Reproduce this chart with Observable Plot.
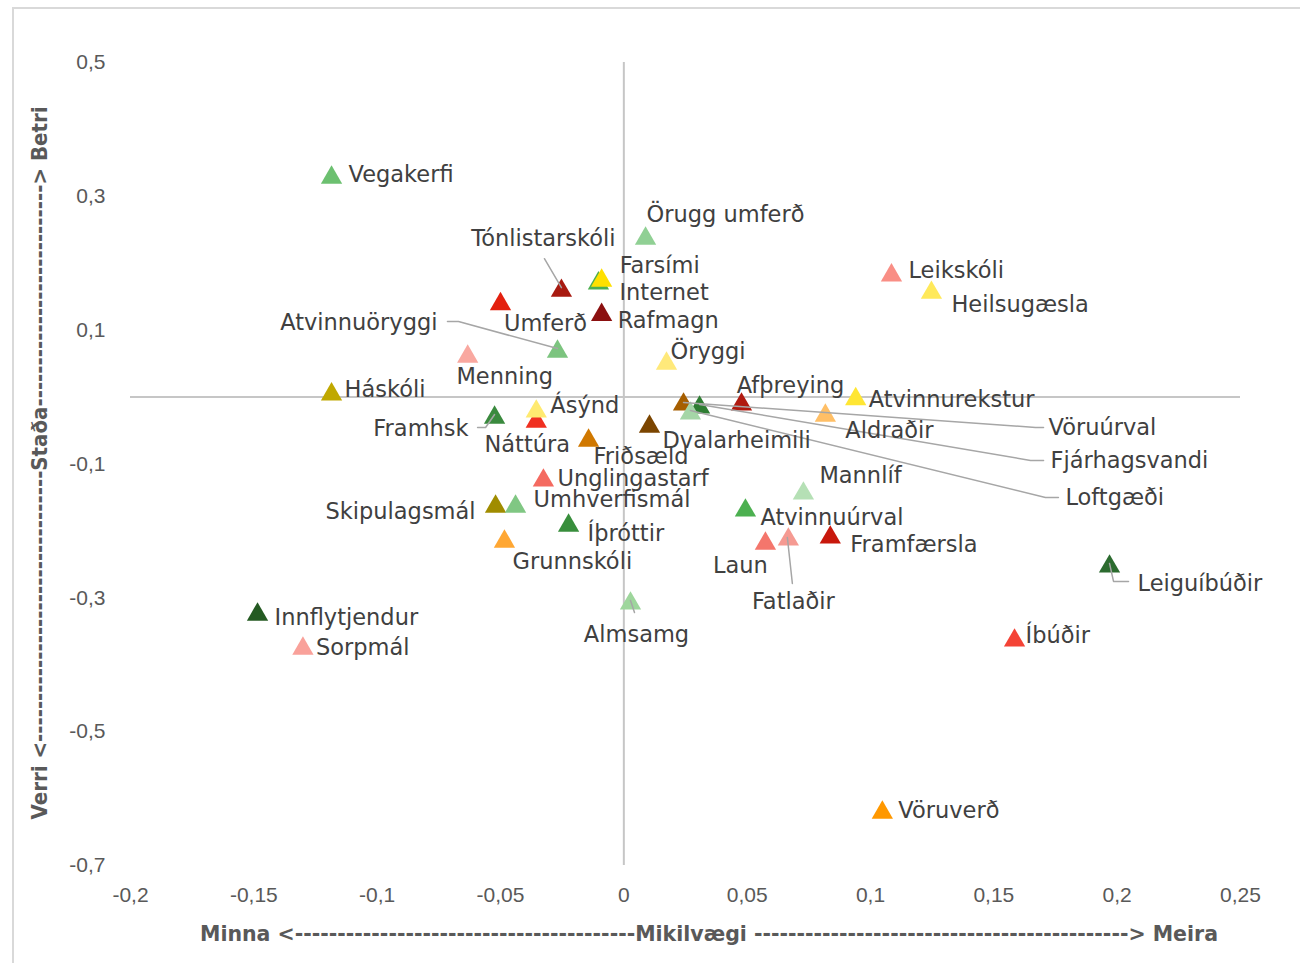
<!DOCTYPE html>
<html><head><meta charset="utf-8">
<script src="https://cdn.jsdelivr.net/npm/d3@7"></script>
<script src="https://cdn.jsdelivr.net/npm/@observablehq/plot@0.6"></script>
<style>
html,body{margin:0;padding:0;background:#fff;overflow:hidden;width:1300px;height:963px}
#frame{position:absolute;left:12px;top:7px;width:1300px;height:970px;border:2px solid #d9d9d9;box-sizing:border-box}
#chart{position:absolute;left:0;top:0}
</style></head><body><div id="frame"></div><div id="chart"></div>
<script>
// ---- data ----
const names = ["Vegakerfi","Örugg umferð","Tónlistarskóli","Internet","Farsími","Rafmagn","Umferð","Atvinnuöryggi","Menning","Öryggi","Háskóli","Leikskóli","Heilsugæsla","Afþreying","Atvinnurekstur","Aldraðir","Vöruúrval","Fjárhagsvandi","Loftgæði","Dvalarheimili","Friðsæld","Náttúra","Ásýnd","Framhsk","Unglingastarf","Skipulagsmál","Umhverfismál","Íþróttir","Grunnskóli","Almsamg","Mannlíf","Atvinnuúrval","Laun","Fatlaðir","Framfærsla","Leiguíbúðir","Íbúðir","Vöruverð","Innflytjendur","Sorpmál"];
const importance = [-0.1185,0.0088,-0.0253,-0.0103,-0.0090,-0.0090,-0.0500,-0.0269,-0.0633,0.0173,-0.1185,0.1085,0.1247,0.0477,0.0940,0.0817,0.0242,0.0307,0.0270,0.0104,-0.0143,-0.0355,-0.0355,-0.0524,-0.0326,-0.0520,-0.0439,-0.0224,-0.0484,0.0027,0.0728,0.0493,0.0574,0.0667,0.0837,0.1969,0.1584,0.1048,-0.1485,-0.1301];
const status = [0.328,0.237,0.159,0.170,0.174,0.123,0.139,0.068,0.0606,0.050,0.004,0.182,0.156,-0.011,-0.003,-0.0275,-0.011,-0.0155,-0.0245,-0.044,-0.065,-0.0365,-0.0215,-0.0305,-0.1246,-0.1635,-0.1635,-0.1919,-0.2158,-0.3084,-0.144,-0.1694,-0.2188,-0.2128,-0.2098,-0.2531,-0.3637,-0.6208,-0.3249,-0.3757];
const colors = ["#6cc070","#90d094","#a81a10","#4caf50","#ffe000","#8b1010","#e3200f","#7cc47f","#f9a8a0","#ffe97a","#c0a800","#f98e85","#ffe95a","#b01a10","#ffe633","#ffbf66","#a65e00","#2e7d32","#a5d6a7","#7b4500","#d07800","#f03020","#ffea70","#3a8a3e","#f46a60","#a08c00","#80c783","#388e3c","#ffa733","#9ed69c","#b5e0b5","#4cb050","#f4766c","#f59a92","#c8180c","#2c6b2f","#f44336","#ff9800","#245a22","#f9a19a"];
const xTicks = [-0.2,-0.15,-0.1,-0.05,0,0.05,0.1,0.15,0.2,0.25];
const yTicks = [-0.7,-0.5,-0.3,-0.1,0.1,0.3,0.5];
const xTitle = "Minna <" + "-".repeat(40) + "Mikilvægi " + "-".repeat(44) + "> Meira";
const yTitle = "Verri <" + "-".repeat(33) + "Staða" + "-".repeat(27) + "> Betri";

// ---- label layout (pixel offsets from the marker) ----
const labelLayout = {
  "Vegakerfi":["start",17,-3],"Örugg umferð":["start",1,-24],"Tónlistarskóli":["middle",-18,-52],
  "Farsími":["start",18,-15],"Internet":["start",21,9],"Rafmagn":["start",16,6],"Umferð":["middle",45,20],
  "Atvinnuöryggi":["end",-120,-29],"Menning":["middle",37,20],"Öryggi":["start",4,-12],"Háskóli":["start",13,-5],
  "Leikskóli":["start",17,-4],"Heilsugæsla":["start",20,12],"Afþreying":["middle",49,-19],"Atvinnurekstur":["start",13,1],
  "Aldraðir":["start",20,15],"Vöruúrval":["start",365,23],"Fjárhagsvandi":["start",351,53],"Loftgæði":["start",375,84],
  "Dvalarheimili":["start",13,14],"Friðsæld":["start",5,16],"Ásýnd":["start",14,-6],"Náttúra":["middle",-9,23],
  "Framhsk":["end",-26,11],"Unglingastarf":["start",14,-2],"Skipulagsmál":["end",-20,5],"Umhverfismál":["start",18,-7],
  "Íþróttir":["start",19,8],"Grunnskóli":["start",8,20],"Almsamg":["middle",6,31],"Mannlíf":["start",16,-18],
  "Atvinnuúrval":["start",15,7],"Laun":["middle",-25,22],"Fatlaðir":["middle",5,62],"Framfærsla":["start",20,7],
  "Leiguíbúðir":["start",28,17],"Íbúðir":["start",11,-5],"Vöruverð":["start",16,-2],"Innflytjendur":["start",17,3],"Sorpmál":["start",13,-1]
};
const leaderLayout = {
  "Tónlistarskóli":[[0,-3],[-17,-32]],
  "Atvinnuöryggi":[[0,-3],[-99,-30],[-110,-30]],
  "Vöruúrval":[[0,-2],[352,23],[360,23]],
  "Fjárhagsvandi":[[0,-3],[331,53],[344,53]],
  "Loftgæði":[[0,-3],[355,84],[368,84]],
  "Framhsk":[[0,-3],[-9,10],[-17,10]],
  "Almsamg":[[0,-3],[4,9]],
  "Fatlaðir":[[-1,-2],[4,44]],
  "Leiguíbúðir":[[0,-3],[4,15],[19,15]]
};

// ---- build ----
const W = 1300, H = 963, ML = 130, MR = 60, MT = 62, MB = 98;
const xDom = [-0.2, 0.25], yDom = [-0.7, 0.5];
const kx = (W - ML - MR) / (xDom[1] - xDom[0]);
const ky = (H - MT - MB) / (yDom[1] - yDom[0]);
const pts = names.map((n, i) => ({name: n, x: importance[i], y: status[i], color: colors[i]}));
const labels = pts.map(p => {
  const [a, dx, dy] = labelLayout[p.name];
  return {name: p.name, anchor: a, x: p.x + dx / kx, y: p.y - dy / ky};
});
const leaders = [];
for (const p of pts) {
  const L = leaderLayout[p.name];
  if (!L) continue;
  L.forEach(([dx, dy], k) => leaders.push({name: p.name, k, x: p.x + dx / kx, y: p.y - dy / ky}));
}
const fmt = d => String(+d.toFixed(2)).replace(".", ",");
const labelFont = {fontFamily: "DejaVu Sans", fontSize: 22.5, fill: "#404040"};

const plot = Plot.plot({
  width: W, height: H,
  marginLeft: ML, marginRight: MR, marginTop: MT, marginBottom: MB,
  style: {fontFamily: "Liberation Sans", fontSize: "21px", color: "#595959", background: "transparent"},
  x: {domain: xDom},
  y: {domain: yDom},
  marks: [
    Plot.ruleX([0], {y1: yDom[0], y2: yDom[1], stroke: "#c6c6c6", strokeWidth: 2}),
    Plot.ruleY([0], {x1: xDom[0], x2: xDom[1], stroke: "#c6c6c6", strokeWidth: 2}),
    Plot.axisX({ticks: xTicks, tickFormat: fmt, tickSize: 0, tickPadding: 22, label: null, fill: "#595959"}),
    Plot.axisY({ticks: yTicks, tickFormat: fmt, tickSize: 0, tickPadding: 25, label: null, fill: "#595959"}),
    Plot.dot(pts, {x: "x", y: "y", fill: "color", symbol: "triangle", r: 7.9, stroke: "none"}),
    Plot.line(leaders, {x: "x", y: "y", z: "name", stroke: "#a6a6a6", strokeWidth: 1.5, curve: "linear"}),
    Plot.text(labels.filter(d => d.anchor === "start"), {x: "x", y: "y", text: "name", textAnchor: "start", ...labelFont}),
    Plot.text(labels.filter(d => d.anchor === "middle"), {x: "x", y: "y", text: "name", textAnchor: "middle", ...labelFont}),
    Plot.text(labels.filter(d => d.anchor === "end"), {x: "x", y: "y", text: "name", textAnchor: "end", ...labelFont})
  ]
});
document.getElementById("chart").appendChild(plot);

const svg = d3.select(plot);
svg.append("text")
  .attr("x", 709).attr("y", 935).attr("text-anchor", "middle").attr("dominant-baseline", "middle")
  .attr("font-family", "DejaVu Sans").attr("font-weight", "bold").attr("font-size", 21).attr("fill", "#595959")
  .attr("textLength", 1018).attr("lengthAdjust", "spacingAndGlyphs")
  .text(xTitle);
svg.append("text")
  .attr("transform", "translate(41,463) rotate(-90)").attr("text-anchor", "middle").attr("dominant-baseline", "middle")
  .attr("font-family", "DejaVu Sans").attr("font-weight", "bold").attr("font-size", 21).attr("fill", "#595959")
  .attr("textLength", 713).attr("lengthAdjust", "spacingAndGlyphs")
  .text(yTitle);
</script></body></html>
